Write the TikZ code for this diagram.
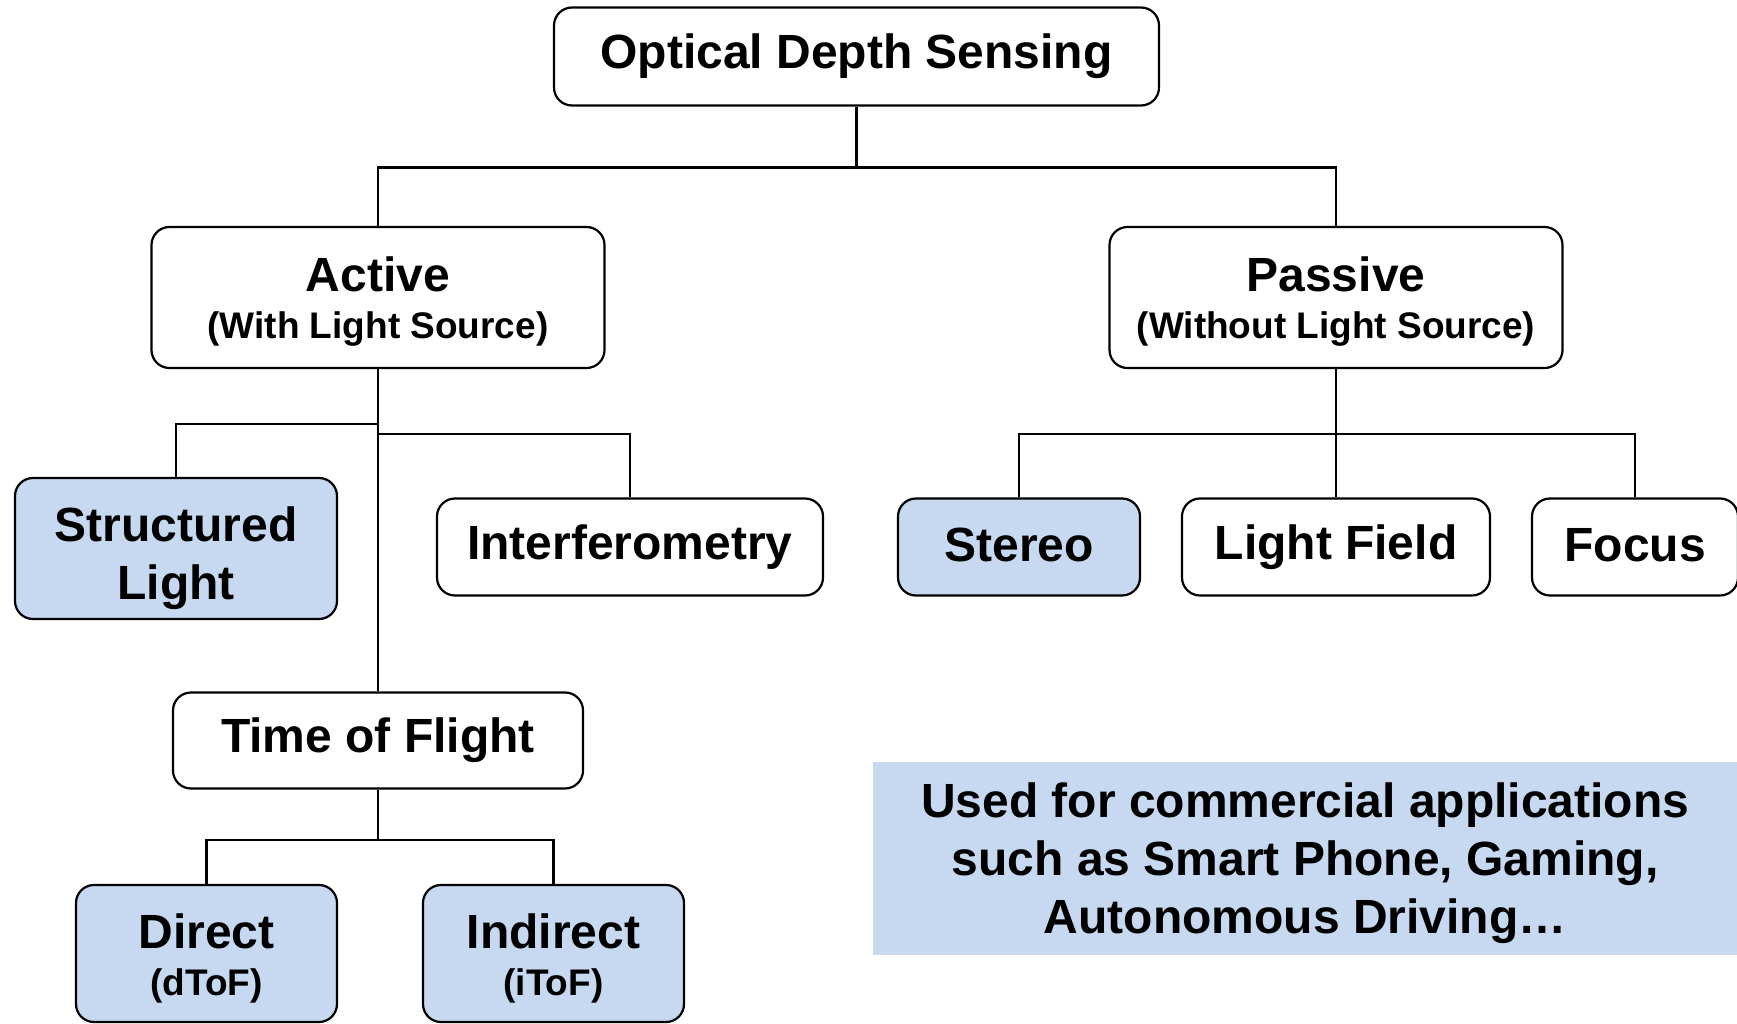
\documentclass[tikz,border=0pt]{standalone}
\usepackage{fontspec}
\setmainfont{Liberation Sans}
\definecolor{boxblue}{RGB}{198,217,240}
\tikzset{
  box/.style={draw=black, line width=2.2pt, rounded corners=18pt, inner sep=0pt,
    align=center, font=\fontsize{48}{58}\selectfont\bfseries},
  bluebox/.style={box, fill=boxblue},
  link/.style={draw=black, line width=2.2pt},
}
\newcommand{\subline}[1]{{\fontsize{37}{44}\selectfont #1}}
% taller first line, pushes the lines a bit lower in their box
\newcommand{\topgap}[1]{\rule{0pt}{#1}}

\begin{document}
\begin{tikzpicture}[x=1pt,y=1pt,yscale=-1,xscale=1]
\useasboundingbox (0,0) rectangle (1737,1024);

% Text Node
\node [box, minimum width=605, minimum height=98] (root) at (856.5,56.5) {Optical Depth Sensing};
% Text Node
\node [box, minimum width=453, minimum height=141] (active) at (378,297.5) {\topgap{42pt}Active\\[-11pt]\subline{(With Light Source)}};
% Text Node
\node [box, minimum width=453, minimum height=141] (passive) at (1336,297.5) {\topgap{42pt}Passive\\[-11pt]\subline{(Without Light Source)}};

% Text Node
\node [bluebox, minimum width=322, minimum height=141] (sl) at (176,548.5) {\topgap{55pt}Structured\\Light};
% Text Node
\node [box, minimum width=386, minimum height=97] (interf) at (630,547) {Interferometry};
% Text Node
\node [bluebox, minimum width=242, minimum height=97, text depth=5pt] (stereo) at (1019,547) {Stereo};
% Text Node
\node [box, minimum width=308, minimum height=97] (lf) at (1336,547) {Light Field};
% Text Node
\node [box, minimum width=206, minimum height=97, text depth=5pt] (focus) at (1635,547) {Focus};

% Text Node
\node [box, minimum width=410, minimum height=96] (tof) at (378,740.5) {Time of Flight};
% Text Node
\node [bluebox, minimum width=261, minimum height=137] (direct) at (206.5,953.5) {\topgap{44pt}Direct\\[-11pt]\subline{(dToF)}};
% Text Node
\node [bluebox, minimum width=261, minimum height=137] (indirect) at (553.5,953.5) {\topgap{44pt}Indirect\\[-11pt]\subline{(iToF)}};

%Shape: Rectangle
\node [fill=boxblue, minimum width=864, minimum height=193, anchor=north west, inner sep=0pt,
  align=center, font=\fontsize{48}{58}\selectfont\bfseries] (note) at (873,762)
  {\topgap{44pt}Used for commercial applications\\such as Smart Phone, Gaming,\\Autonomous Driving…};

%Straight Lines
\draw [link] (root.south) -- ++(0,61) -| (active.north);
\draw [link] (root.south) -- ++(0,61) -| (passive.north);
%Straight Lines
\draw [link] (active.south) -- ++(0,55) -| (sl.north);
\draw [link] (active.south) -- ++(0,65) -| (interf.north);
\draw [link] (active.south) -- (tof.north);
%Straight Lines
\draw [link] (passive.south) -- ++(0,65) -| (stereo.north);
\draw [link] (passive.south) -- (lf.north);
\draw [link] (passive.south) -- ++(0,65) -| (focus.north);
%Straight Lines
\draw [link] (tof.south) -- ++(0,50) -| (direct.north);
\draw [link] (tof.south) -- ++(0,50) -| (indirect.north);

\end{tikzpicture}
\end{document}
